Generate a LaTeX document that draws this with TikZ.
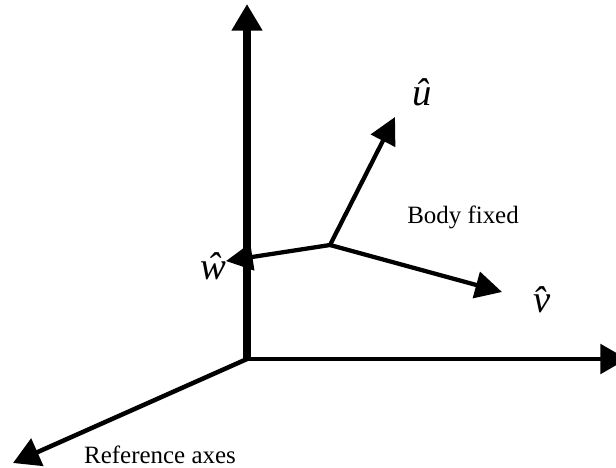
\documentclass[tikz,border=0pt]{standalone}
\usepackage{fontspec}
\setmainfont{Liberation Serif}
\usetikzlibrary{arrows.meta}
\tikzset{
  refaxis/.style={-{Triangle[length=20pt, width=22pt]}, line width=5.6pt},
  thinaxis/.style={-{Triangle[length=20pt, width=22pt]}, line width=3.4pt},
  bodyaxis/.style={-{Triangle[length=20pt, width=20pt]}, line width=3.2pt},
  axislabel/.style={font=\fontsize{29}{29}\selectfont\itshape, inner sep=0pt, anchor=base},
  caption/.style={font=\fontsize{18.7}{20}\selectfont, inner sep=0pt, anchor=base},
}

\begin{document}
\begin{tikzpicture}[x=0.75pt, y=-0.75pt]
\useasboundingbox (0,0) rectangle (616,467);

% Reference axes
\coordinate (origin) at (247,359);
\coordinate (refup) at (247,4);
\coordinate (refright) at (627,359);
\coordinate (refleft) at (13,463);
\draw[refaxis] (247,361) -- (refup);
\draw[thinaxis] (origin) -- (refright);
\draw[thinaxis] (origin) -- (refleft);

% Body fixed axes
\coordinate (body) at (330,245);
\coordinate (utip) at (395,117);
\coordinate (vtip) at (502,292);
\coordinate (wtip) at (226,261);
\draw[bodyaxis] (body) -- (utip);
\draw[bodyaxis] (body) -- (vtip);
\draw[bodyaxis] (body) -- (wtip);

\node[axislabel] (ulabel) at (422,105) {\^u};
\node[axislabel] (vlabel) at (542,312) {\^v};
\node[axislabel] (wlabel) at (213,279) {\^w};

\node[caption] (bodylabel) at (463,223) {Body fixed};
\node[caption] (reflabel) at (160,463) {Reference axes};

\end{tikzpicture}
\end{document}
